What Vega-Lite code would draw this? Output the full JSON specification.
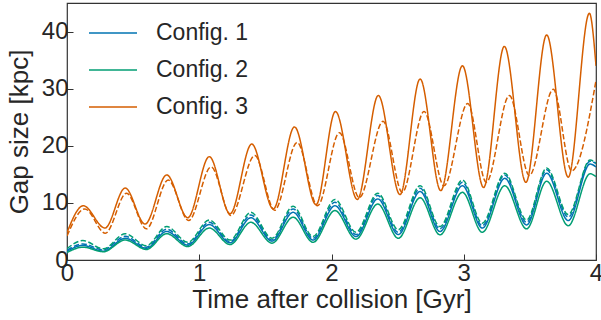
{
  "$schema": "https://vega.github.io/schema/vega-lite/v6.json",
  "width": 529,
  "height": 257,
  "autosize": {"type": "none"},
  "padding": {"left": 67, "top": 3, "right": 5, "bottom": 60},
  "background": "white",
  "datasets": {
    "lines": [
      {"c": "Config. 1", "d": "solid", "t": 0, "v": 1.5},
      {"c": "Config. 1", "d": "solid", "t": 0.12, "v": 2.55},
      {"c": "Config. 1", "d": "solid", "t": 0.275, "v": 1.55},
      {"c": "Config. 1", "d": "solid", "t": 0.44, "v": 3.8},
      {"c": "Config. 1", "d": "solid", "t": 0.6, "v": 2.05},
      {"c": "Config. 1", "d": "solid", "t": 0.754, "v": 5.0},
      {"c": "Config. 1", "d": "solid", "t": 0.913, "v": 2.6},
      {"c": "Config. 1", "d": "solid", "t": 1.076, "v": 6.2},
      {"c": "Config. 1", "d": "solid", "t": 1.233, "v": 3.0},
      {"c": "Config. 1", "d": "solid", "t": 1.39, "v": 7.4},
      {"c": "Config. 1", "d": "solid", "t": 1.55, "v": 3.3},
      {"c": "Config. 1", "d": "solid", "t": 1.71, "v": 8.35},
      {"c": "Config. 1", "d": "solid", "t": 1.86, "v": 3.5},
      {"c": "Config. 1", "d": "solid", "t": 2.026, "v": 9.5},
      {"c": "Config. 1", "d": "solid", "t": 2.185, "v": 4.1},
      {"c": "Config. 1", "d": "solid", "t": 2.35, "v": 10.7},
      {"c": "Config. 1", "d": "solid", "t": 2.505, "v": 4.45},
      {"c": "Config. 1", "d": "solid", "t": 2.67, "v": 12.0},
      {"c": "Config. 1", "d": "solid", "t": 2.82, "v": 5.0},
      {"c": "Config. 1", "d": "solid", "t": 2.99, "v": 13.0},
      {"c": "Config. 1", "d": "solid", "t": 3.14, "v": 5.6},
      {"c": "Config. 1", "d": "solid", "t": 3.31, "v": 14.3},
      {"c": "Config. 1", "d": "solid", "t": 3.475, "v": 6.15},
      {"c": "Config. 1", "d": "solid", "t": 3.627, "v": 15.2},
      {"c": "Config. 1", "d": "solid", "t": 3.79, "v": 6.9},
      {"c": "Config. 1", "d": "solid", "t": 3.955, "v": 16.8},
      {"c": "Config. 1", "d": "solid", "t": 4.0, "v": 16.3},

      {"c": "Config. 1", "d": "dashed", "t": 0, "v": 1.7},
      {"c": "Config. 1", "d": "dashed", "t": 0.12, "v": 2.8},
      {"c": "Config. 1", "d": "dashed", "t": 0.275, "v": 1.8},
      {"c": "Config. 1", "d": "dashed", "t": 0.44, "v": 4.15},
      {"c": "Config. 1", "d": "dashed", "t": 0.6, "v": 2.25},
      {"c": "Config. 1", "d": "dashed", "t": 0.754, "v": 5.4},
      {"c": "Config. 1", "d": "dashed", "t": 0.913, "v": 2.8},
      {"c": "Config. 1", "d": "dashed", "t": 1.076, "v": 6.6},
      {"c": "Config. 1", "d": "dashed", "t": 1.233, "v": 3.2},
      {"c": "Config. 1", "d": "dashed", "t": 1.39, "v": 7.9},
      {"c": "Config. 1", "d": "dashed", "t": 1.55, "v": 3.5},
      {"c": "Config. 1", "d": "dashed", "t": 1.71, "v": 8.95},
      {"c": "Config. 1", "d": "dashed", "t": 1.86, "v": 3.8},
      {"c": "Config. 1", "d": "dashed", "t": 2.026, "v": 10.1},
      {"c": "Config. 1", "d": "dashed", "t": 2.185, "v": 4.45},
      {"c": "Config. 1", "d": "dashed", "t": 2.35, "v": 11.3},
      {"c": "Config. 1", "d": "dashed", "t": 2.505, "v": 4.85},
      {"c": "Config. 1", "d": "dashed", "t": 2.67, "v": 12.55},
      {"c": "Config. 1", "d": "dashed", "t": 2.82, "v": 5.45},
      {"c": "Config. 1", "d": "dashed", "t": 2.99, "v": 13.6},
      {"c": "Config. 1", "d": "dashed", "t": 3.14, "v": 6.0},
      {"c": "Config. 1", "d": "dashed", "t": 3.31, "v": 14.9},
      {"c": "Config. 1", "d": "dashed", "t": 3.475, "v": 6.6},
      {"c": "Config. 1", "d": "dashed", "t": 3.627, "v": 15.8},
      {"c": "Config. 1", "d": "dashed", "t": 3.79, "v": 7.5},
      {"c": "Config. 1", "d": "dashed", "t": 3.955, "v": 17.3},
      {"c": "Config. 1", "d": "dashed", "t": 4.0, "v": 16.9},

      {"c": "Config. 2", "d": "solid", "t": 0, "v": 1.3},
      {"c": "Config. 2", "d": "solid", "t": 0.12, "v": 2.25},
      {"c": "Config. 2", "d": "solid", "t": 0.275, "v": 1.45},
      {"c": "Config. 2", "d": "solid", "t": 0.44, "v": 3.5},
      {"c": "Config. 2", "d": "solid", "t": 0.6, "v": 1.85},
      {"c": "Config. 2", "d": "solid", "t": 0.754, "v": 4.6},
      {"c": "Config. 2", "d": "solid", "t": 0.913, "v": 2.35},
      {"c": "Config. 2", "d": "solid", "t": 1.076, "v": 5.6},
      {"c": "Config. 2", "d": "solid", "t": 1.233, "v": 2.7},
      {"c": "Config. 2", "d": "solid", "t": 1.39, "v": 6.6},
      {"c": "Config. 2", "d": "solid", "t": 1.55, "v": 2.95},
      {"c": "Config. 2", "d": "solid", "t": 1.71, "v": 7.5},
      {"c": "Config. 2", "d": "solid", "t": 1.86, "v": 3.1},
      {"c": "Config. 2", "d": "solid", "t": 2.026, "v": 8.65},
      {"c": "Config. 2", "d": "solid", "t": 2.185, "v": 3.65},
      {"c": "Config. 2", "d": "solid", "t": 2.35, "v": 9.8},
      {"c": "Config. 2", "d": "solid", "t": 2.505, "v": 3.8},
      {"c": "Config. 2", "d": "solid", "t": 2.67, "v": 10.9},
      {"c": "Config. 2", "d": "solid", "t": 2.82, "v": 4.4},
      {"c": "Config. 2", "d": "solid", "t": 2.99, "v": 11.85},
      {"c": "Config. 2", "d": "solid", "t": 3.14, "v": 4.85},
      {"c": "Config. 2", "d": "solid", "t": 3.31, "v": 13.0},
      {"c": "Config. 2", "d": "solid", "t": 3.475, "v": 5.45},
      {"c": "Config. 2", "d": "solid", "t": 3.627, "v": 13.8},
      {"c": "Config. 2", "d": "solid", "t": 3.79, "v": 6.0},
      {"c": "Config. 2", "d": "solid", "t": 3.955, "v": 15.1},
      {"c": "Config. 2", "d": "solid", "t": 4.0, "v": 14.6},

      {"c": "Config. 2", "d": "dashed", "t": 0, "v": 2.0},
      {"c": "Config. 2", "d": "dashed", "t": 0.12, "v": 3.4},
      {"c": "Config. 2", "d": "dashed", "t": 0.275, "v": 1.95},
      {"c": "Config. 2", "d": "dashed", "t": 0.44, "v": 4.6},
      {"c": "Config. 2", "d": "dashed", "t": 0.6, "v": 2.5},
      {"c": "Config. 2", "d": "dashed", "t": 0.754, "v": 5.85},
      {"c": "Config. 2", "d": "dashed", "t": 0.913, "v": 3.1},
      {"c": "Config. 2", "d": "dashed", "t": 1.076, "v": 7.0},
      {"c": "Config. 2", "d": "dashed", "t": 1.233, "v": 3.5},
      {"c": "Config. 2", "d": "dashed", "t": 1.39, "v": 8.35},
      {"c": "Config. 2", "d": "dashed", "t": 1.55, "v": 3.8},
      {"c": "Config. 2", "d": "dashed", "t": 1.71, "v": 9.4},
      {"c": "Config. 2", "d": "dashed", "t": 1.86, "v": 4.1},
      {"c": "Config. 2", "d": "dashed", "t": 2.026, "v": 10.6},
      {"c": "Config. 2", "d": "dashed", "t": 2.185, "v": 4.85},
      {"c": "Config. 2", "d": "dashed", "t": 2.35, "v": 11.7},
      {"c": "Config. 2", "d": "dashed", "t": 2.505, "v": 5.3},
      {"c": "Config. 2", "d": "dashed", "t": 2.67, "v": 13.0},
      {"c": "Config. 2", "d": "dashed", "t": 2.82, "v": 5.85},
      {"c": "Config. 2", "d": "dashed", "t": 2.99, "v": 14.0},
      {"c": "Config. 2", "d": "dashed", "t": 3.14, "v": 6.45},
      {"c": "Config. 2", "d": "dashed", "t": 3.31, "v": 15.2},
      {"c": "Config. 2", "d": "dashed", "t": 3.475, "v": 7.0},
      {"c": "Config. 2", "d": "dashed", "t": 3.627, "v": 16.1},
      {"c": "Config. 2", "d": "dashed", "t": 3.79, "v": 7.95},
      {"c": "Config. 2", "d": "dashed", "t": 3.955, "v": 17.5},
      {"c": "Config. 2", "d": "dashed", "t": 4.0, "v": 17.0},

      {"c": "Config. 3", "d": "solid", "t": 0, "v": 4.8},
      {"c": "Config. 3", "d": "solid", "t": 0.123, "v": 9.5},
      {"c": "Config. 3", "d": "solid", "t": 0.287, "v": 5.6},
      {"c": "Config. 3", "d": "solid", "t": 0.44, "v": 12.6},
      {"c": "Config. 3", "d": "solid", "t": 0.59, "v": 6.3},
      {"c": "Config. 3", "d": "solid", "t": 0.754, "v": 14.9},
      {"c": "Config. 3", "d": "solid", "t": 0.913, "v": 7.4},
      {"c": "Config. 3", "d": "solid", "t": 1.076, "v": 18.1},
      {"c": "Config. 3", "d": "solid", "t": 1.233, "v": 8.1},
      {"c": "Config. 3", "d": "solid", "t": 1.397, "v": 20.3},
      {"c": "Config. 3", "d": "solid", "t": 1.56, "v": 8.95},
      {"c": "Config. 3", "d": "solid", "t": 1.72, "v": 23.3},
      {"c": "Config. 3", "d": "solid", "t": 1.883, "v": 9.7},
      {"c": "Config. 3", "d": "solid", "t": 2.03, "v": 26.0},
      {"c": "Config. 3", "d": "solid", "t": 2.195, "v": 10.6},
      {"c": "Config. 3", "d": "solid", "t": 2.354, "v": 28.8},
      {"c": "Config. 3", "d": "solid", "t": 2.518, "v": 11.45},
      {"c": "Config. 3", "d": "solid", "t": 2.67, "v": 31.7},
      {"c": "Config. 3", "d": "solid", "t": 2.826, "v": 12.15},
      {"c": "Config. 3", "d": "solid", "t": 2.99, "v": 34.0},
      {"c": "Config. 3", "d": "solid", "t": 3.15, "v": 12.7},
      {"c": "Config. 3", "d": "solid", "t": 3.307, "v": 37.4},
      {"c": "Config. 3", "d": "solid", "t": 3.47, "v": 13.6},
      {"c": "Config. 3", "d": "solid", "t": 3.627, "v": 39.4},
      {"c": "Config. 3", "d": "solid", "t": 3.79, "v": 14.5},
      {"c": "Config. 3", "d": "solid", "t": 3.95, "v": 43.2},
      {"c": "Config. 3", "d": "solid", "t": 4.0, "v": 34.0},

      {"c": "Config. 3", "d": "dashed", "t": 0, "v": 4.2},
      {"c": "Config. 3", "d": "dashed", "t": 0.135, "v": 8.95},
      {"c": "Config. 3", "d": "dashed", "t": 0.29, "v": 4.7},
      {"c": "Config. 3", "d": "dashed", "t": 0.45, "v": 11.7},
      {"c": "Config. 3", "d": "dashed", "t": 0.6, "v": 5.45},
      {"c": "Config. 3", "d": "dashed", "t": 0.765, "v": 14.0},
      {"c": "Config. 3", "d": "dashed", "t": 0.92, "v": 6.9},
      {"c": "Config. 3", "d": "dashed", "t": 1.09, "v": 16.3},
      {"c": "Config. 3", "d": "dashed", "t": 1.24, "v": 7.8},
      {"c": "Config. 3", "d": "dashed", "t": 1.42, "v": 18.3},
      {"c": "Config. 3", "d": "dashed", "t": 1.57, "v": 8.7},
      {"c": "Config. 3", "d": "dashed", "t": 1.74, "v": 20.6},
      {"c": "Config. 3", "d": "dashed", "t": 1.895, "v": 9.5},
      {"c": "Config. 3", "d": "dashed", "t": 2.06, "v": 22.3},
      {"c": "Config. 3", "d": "dashed", "t": 2.21, "v": 10.9},
      {"c": "Config. 3", "d": "dashed", "t": 2.39, "v": 24.3},
      {"c": "Config. 3", "d": "dashed", "t": 2.535, "v": 11.85},
      {"c": "Config. 3", "d": "dashed", "t": 2.7, "v": 26.0},
      {"c": "Config. 3", "d": "dashed", "t": 2.85, "v": 13.0},
      {"c": "Config. 3", "d": "dashed", "t": 3.03, "v": 27.4},
      {"c": "Config. 3", "d": "dashed", "t": 3.17, "v": 13.6},
      {"c": "Config. 3", "d": "dashed", "t": 3.345, "v": 28.8},
      {"c": "Config. 3", "d": "dashed", "t": 3.496, "v": 14.8},
      {"c": "Config. 3", "d": "dashed", "t": 3.677, "v": 29.9},
      {"c": "Config. 3", "d": "dashed", "t": 3.816, "v": 15.6},
      {"c": "Config. 3", "d": "dashed", "t": 4.0, "v": 31.4}
    ]
  },
  "data": {"name": "lines"},
  "mark": {"type": "line", "interpolate": "monotone", "strokeWidth": 1.5, "clip": true},
  "encoding": {
    "x": {
      "field": "t", "type": "quantitative",
      "scale": {"domain": [0, 4], "nice": false, "zero": false},
      "axis": {"title": "Time after collision [Gyr]", "values": [0, 1, 2, 3, 4], "format": "d", "labelPadding": 7, "titlePadding": 1}
    },
    "y": {
      "field": "v", "type": "quantitative",
      "scale": {"domain": [0, 45], "nice": false},
      "axis": {"title": "Gap size [kpc]", "values": [0, 10, 20, 30, 40], "format": "d", "titlePadding": 9}
    },
    "color": {
      "field": "c", "type": "nominal",
      "scale": {"domain": ["Config. 1", "Config. 2", "Config. 3"], "range": ["#0173b2", "#029e73", "#d55e00"]},
      "legend": {
        "title": null,
        "orient": "none",
        "legendX": 21,
        "legendY": 5,
        "symbolType": "stroke",
        "symbolSize": 2304,
        "symbolStrokeWidth": 1.5,
        "labelFontSize": 23,
        "labelOffset": 18,
        "rowPadding": -3,
        "padding": 0
      }
    },
    "strokeDash": {
      "field": "d", "type": "nominal",
      "scale": {"domain": ["solid", "dashed"], "range": [[1, 0], [5.5, 2.4]]},
      "legend": null
    }
  },
  "config": {
    "font": "Liberation Sans",
    "view": {"stroke": "#333333", "strokeWidth": 1.2},
    "axis": {
      "domain": false,
      "grid": false,
      "ticks": true,
      "tickSize": -6,
      "tickColor": "#333333",
      "tickWidth": 1,
      "labelFontSize": 24,
      "labelColor": "#262626",
      "labelPadding": 5,
      "titleFontSize": 26,
      "titleFontWeight": "normal",
      "titleColor": "#262626",
      "labelFlush": false,
      "labelOverlap": false
    },
    "legend": {"labelColor": "#262626", "labelFont": "Liberation Sans"}
  }
}
